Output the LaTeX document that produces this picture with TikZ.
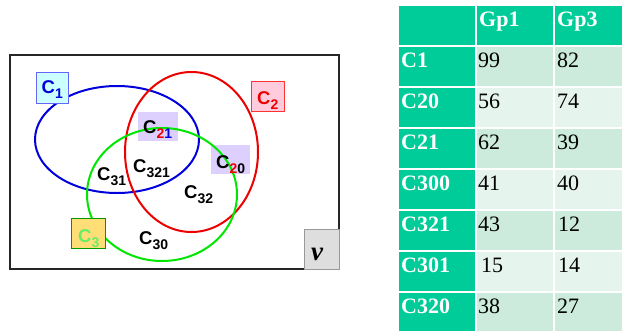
\documentclass[tikz,border=0pt]{standalone}
\usepackage{fontspec}
\setmainfont{Liberation Serif}
\newfontfamily\vennfont{Liberation Sans}
\definecolor{teal}{HTML}{00CC99}
\definecolor{rowA}{HTML}{CCEBDD}
\definecolor{rowB}{HTML}{E6F4EE}
\definecolor{lav}{HTML}{DDD0FF}
\definecolor{cyanbox}{HTML}{CCFFFF}
\definecolor{pinkbox}{HTML}{FFCCDD}
\definecolor{goldbox}{HTML}{FFDD77}
\definecolor{vblue}{HTML}{0000DD}
\definecolor{vred}{HTML}{EE0000}
\definecolor{vgreen}{HTML}{00E600}
\definecolor{lgreen}{HTML}{66EE66}
\newcommand\vsub[1]{\raisebox{-5pt}{\fontsize{14}{14}\selectfont #1}}
\begin{document}
\begin{tikzpicture}[x=1pt,y=-1pt,
  vlabel/.style={anchor=base west,inner sep=0pt,font=\vennfont\bfseries\fontsize{18.5}{18.5}\selectfont},
  tagbox/.style={draw,line width=0.8pt,anchor=north west,inner sep=0pt},
  ring/.style={line width=2pt},
  hdr/.style={anchor=base west,inner sep=0pt,text=white,font=\bfseries\fontsize{22}{22}\selectfont},
  num/.style={anchor=base west,inner sep=0pt,text=black,font=\fontsize{22}{22}\selectfont}]
\useasboundingbox (0,0) rectangle (622,330);
% frame
\draw[line width=2pt,black!85] (10,55) rectangle (339,269);
% shaded boxes under rings
\node[tagbox,draw=none,fill=lav,minimum width=40pt,minimum height=29pt] (b21) at (138,112) {};
\node[tagbox,draw=none,fill=lav,minimum width=39pt,minimum height=29pt] (b20) at (211,145) {};
% rings
\draw[ring,vblue] (117,139.5) ellipse [x radius=82pt,y radius=53.5pt];
\draw[ring,vred] (191.5,152) ellipse [x radius=66.5pt,y radius=80pt];
\draw[ring,vgreen] (162,194.5) ellipse [x radius=75pt,y radius=66.5pt];
% tag boxes
\node[tagbox,draw=blue!60,fill=cyanbox,minimum width=32pt,minimum height=31pt] (b1) at (36,72) {};
\node[tagbox,draw=red!80,fill=pinkbox,minimum width=33pt,minimum height=30pt] (b2) at (251,81) {};
\node[tagbox,draw=green!60!black,fill=goldbox,minimum width=34pt,minimum height=30pt] (b3) at (71,218) {};
\node[tagbox,draw=black!40,fill=black!13,minimum width=35pt,minimum height=40pt] (bnu) at (304,229) {};
% labels
\node[vlabel,text=vblue] (c1) at (41.5,93) {C\vsub{1}};
\node[vlabel,text=vred] (c2) at (257,104) {C\vsub{2}};
\node[vlabel,text=lgreen] (c3) at (78,242) {C\vsub{3}};
\node[vlabel] (c21) at (143,133) {C\vsub{\textcolor{vred}{2}\textcolor{vblue}{1}}};
\node[vlabel] (c20) at (216,168) {C\vsub{\textcolor{vred}{2}0}};
\node[vlabel] (c31) at (97,180) {C\vsub{31}};
\node[vlabel] (c321) at (133,172) {C\vsub{321}};
\node[vlabel] (c32) at (184,198) {C\vsub{32}};
\node[vlabel] (c30) at (139,244) {C\vsub{30}};
\node[anchor=base west,inner sep=0pt,font=\fontsize{27}{27}\selectfont\bfseries\itshape] (nu) at (311,260) {ν};
% table backgrounds
\fill[teal] (399,6) rectangle (475,45);
\fill[teal] (477,6) rectangle (553,45);
\fill[teal] (555,6) rectangle (622,45);
\foreach \i/\c in {0/rowA,1/rowB,2/rowA,3/rowB,4/rowA,5/rowB,6/rowA}{
  \fill[teal] (399,47+41*\i) rectangle (475,86+41*\i);
  \fill[\c] (477,47+41*\i) rectangle (553,86+41*\i);
  \fill[\c] (555,47+41*\i) rectangle (622,86+41*\i);
}
\fill[teal] (399,293) rectangle (475,330);
% table text
\node[hdr] (h1) at (479,26) {Gp1};
\node[hdr] (h3) at (557,26) {Gp3};
\node[hdr] (r1) at (401,67) {C1};
\node[num] (r1a) at (478,67) {99};
\node[num] (r1b) at (557,67) {82};
\node[hdr] (r2) at (401,108) {C20};
\node[num] (r2a) at (478,108) {56};
\node[num] (r2b) at (557,108) {74};
\node[hdr] (r3) at (401,149) {C21};
\node[num] (r3a) at (478,149) {62};
\node[num] (r3b) at (557,149) {39};
\node[hdr] (r4) at (401,190) {C300};
\node[num] (r4a) at (478,190) {41};
\node[num] (r4b) at (557,190) {40};
\node[hdr] (r5) at (401,231) {C321};
\node[num] (r5a) at (478,231) {43};
\node[num] (r5b) at (558,231) {12};
\node[hdr] (r6) at (401,272) {C301};
\node[num] (r6a) at (481,272) {15};
\node[num] (r6b) at (558,272) {14};
\node[hdr] (r7) at (401,313) {C320};
\node[num] (r7a) at (478,313) {38};
\node[num] (r7b) at (557,313) {27};
\end{tikzpicture}
\end{document}
